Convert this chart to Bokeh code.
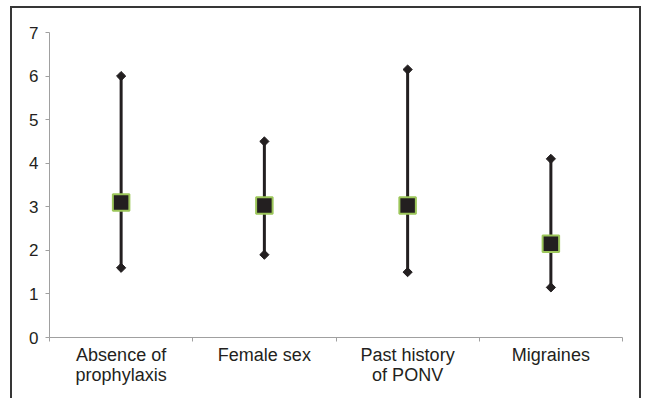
from bokeh.plotting import figure
from bokeh.models import Range1d, FixedTicker, ColumnDataSource
from bokeh.embed import file_html
from bokeh.resources import INLINE

categories = ["Absence of\nprophylaxis", "Female sex", "Past history\nof PONV", "Migraines"]
odds = [3.1, 3.03, 3.03, 2.15]
lower = [1.6, 1.9, 1.5, 1.15]
upper = [6.0, 4.5, 6.15, 4.1]
y_ticks = [0, 1, 2, 3, 4, 5, 6, 7]

n = len(categories)
xs = [i + 0.5 for i in range(n)]
src = ColumnDataSource(dict(x=xs, odds=odds, lower=lower, upper=upper))

DARK = "#231f20"
AXIS = "#a0a0a0"
W, H = 641, 398

p = figure(width=W, height=H, output_backend="svg", toolbar_location=None,
           x_range=Range1d(0, n), y_range=Range1d(0, 7),
           min_border_left=49, min_border_right=19, min_border_top=32, min_border_bottom=61)
p.outline_line_color = None
p.border_fill_color = None
p.background_fill_color = None
p.grid.visible = False

# outer frame of the figure: left, top and right lines (no bottom line)
line = "linear-gradient(#363636,#363636)"
p.styles = {
    "background-color": "white",
    "background-image": f"{line}, {line}, {line}",
    "background-size": f"2px {H}px, {W - 10}px 2px, 2px {H}px",
    "background-position": "10px 6px, 10px 6px, 639px 6px",
    "background-repeat": "no-repeat",
}

p.segment(x0="x", y0="lower", x1="x", y1="upper", source=src, line_width=3, line_color=DARK)
for col in ("lower", "upper"):
    p.scatter("x", col, source=src, marker="square", angle=0.7854, size=6.5,
              fill_color=DARK, line_color=DARK, line_width=1)
p.scatter("x", "odds", source=src, marker="square", size=16.5, fill_color=DARK,
          line_color="#9cc65a", line_width=2)

xa = p.xaxis[0]
xa.ticker = FixedTicker(ticks=xs, minor_ticks=list(range(n + 1)))
xa.major_label_overrides = {x: c for x, c in zip(xs, categories)}
xa.major_tick_line_color = None
xa.major_tick_in = 0
xa.major_tick_out = 0
xa.minor_tick_in = 0
xa.minor_tick_out = 4
xa.minor_tick_line_color = AXIS
xa.major_label_standoff = 3
xa.major_label_text_font = "Liberation Sans"
xa.major_label_text_font_size = "18px"
xa.major_label_text_color = DARK
xa.major_label_text_line_height = 1.0
xa.axis_line_color = AXIS

ya = p.yaxis[0]
ya.ticker = FixedTicker(ticks=y_ticks)
ya.major_tick_in = 0
ya.major_tick_out = 4
ya.major_tick_line_color = AXIS
ya.minor_tick_line_color = None
ya.major_label_standoff = 7
ya.major_label_text_font = "Liberation Sans"
ya.major_label_text_font_size = "17px"
ya.major_label_text_color = DARK
ya.axis_line_color = AXIS

open("out.html", "w").write(file_html(p, INLINE))
